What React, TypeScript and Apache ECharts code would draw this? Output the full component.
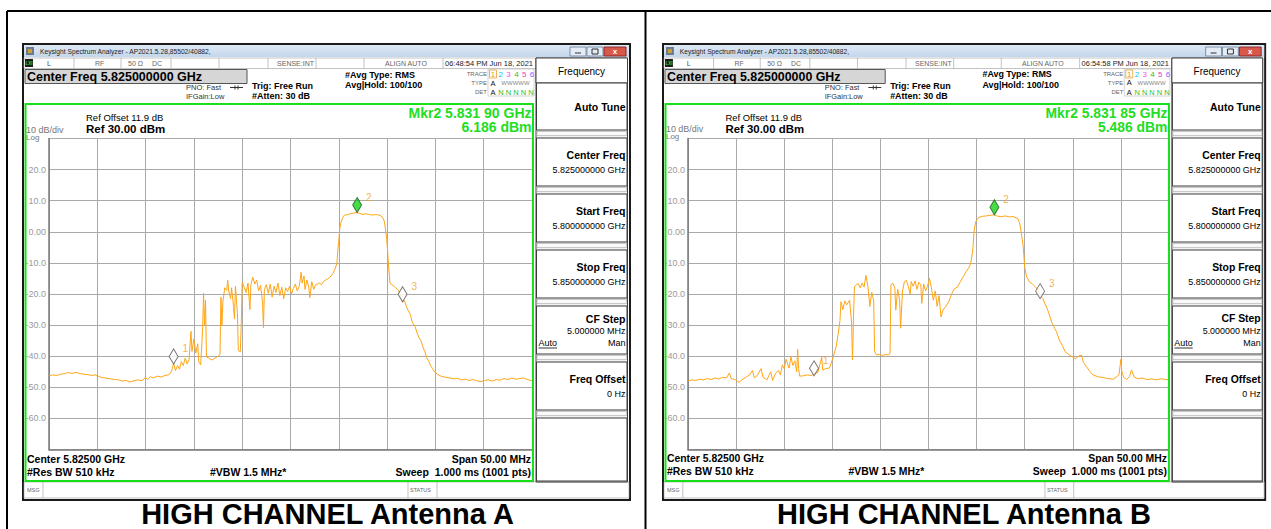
import React, { useEffect, useRef } from "react";
import * as echarts from "echarts";

const FONT = '"Liberation Sans", Arial, sans-serif';

// Frequency offset from start (MHz, 5.800 GHz .. 5.850 GHz) and level (dBm)
const traceA: [number, number][] = [
  [0, -46.3], [0.4, -46.0], [0.8, -46.2], [1.2, -45.8], [1.6, -45.6], [2.0, -45.3], [2.4, -45.5], [2.8, -45.2],
  [3.2, -45.6], [3.6, -45.8], [4.0, -45.9], [4.4, -46.2], [4.8, -46.0], [5.2, -46.6], [5.6, -46.9], [6.0, -47.1],
  [6.4, -47.3], [6.8, -47.5], [7.2, -47.6], [7.6, -48.0], [8.0, -47.8], [8.4, -48.3], [8.8, -47.9], [9.2, -47.6],
  [9.6, -47.9], [10.0, -46.8], [10.2, -47.5], [10.5, -46.6], [10.8, -47.0], [11.2, -46.4], [11.6, -46.7], [12.0, -46.2],
  [12.4, -46.0], [12.7, -44.8], [12.9, -42.3], [13.1, -44.6], [13.3, -43.0], [13.5, -44.2], [13.7, -41.8], [13.9, -43.0],
  [14.1, -40.6], [14.3, -42.5], [14.5, -41.0], [14.7, -32.0], [14.8, -38.5], [15.0, -34.5], [15.2, -39.0], [15.4, -36.0],
  [15.5, -41.7], [15.7, -42.8], [15.9, -31.5], [16.0, -19.8], [16.1, -30.0], [16.2, -22.0], [16.3, -40.2], [16.6, -40.8],
  [16.9, -41.2], [17.2, -40.6], [17.5, -40.0], [17.7, -39.5], [17.8, -21.0], [17.9, -30.0], [18.0, -22.5], [18.2, -18.0],
  [18.4, -18.8], [18.5, -15.6], [18.6, -19.0], [18.8, -21.5], [18.9, -18.0], [19.1, -24.0], [19.2, -28.0], [19.3, -17.5],
  [19.5, -26.0], [19.6, -38.2], [19.8, -38.6], [19.9, -30.0], [20.0, -16.2], [20.2, -17.8], [20.4, -19.5], [20.6, -16.5],
  [20.8, -25.0], [20.9, -17.0], [21.1, -14.6], [21.3, -16.8], [21.5, -15.5], [21.7, -19.0], [21.9, -17.2], [22.1, -22.5],
  [22.2, -30.8], [22.3, -18.5], [22.5, -17.0], [22.7, -19.8], [22.9, -16.8], [23.1, -21.0], [23.3, -17.5], [23.5, -19.5],
  [23.7, -16.5], [23.9, -20.5], [24.1, -17.8], [24.3, -21.5], [24.5, -18.0], [24.7, -19.2], [24.9, -17.5], [25.1, -20.0],
  [25.3, -18.2], [25.5, -16.8], [25.7, -19.0], [25.9, -17.6], [26.1, -13.0], [26.2, -16.5], [26.4, -14.2], [26.5, -18.5],
  [26.7, -15.5], [26.9, -18.0], [27.0, -21.2], [27.2, -16.0], [27.4, -18.5], [27.6, -17.0], [27.8, -16.8], [28.0, -16.5],
  [28.2, -17.0], [28.4, -16.0], [28.6, -15.6], [28.8, -15.2], [29.0, -14.8], [29.2, -14.2], [29.4, -13.4], [29.6, -12.0],
  [29.8, -10.2], [29.9, -6.0], [30.0, -2.7], [30.1, 1.0], [30.2, 2.8], [30.4, 4.6], [30.6, 5.4], [30.9, 5.5],
  [31.2, 5.8], [31.5, 6.0], [31.9, 6.186], [32.2, 5.9], [32.5, 5.6], [32.8, 5.8], [33.1, 5.6], [33.4, 5.4],
  [33.7, 5.5], [34.0, 5.5], [34.3, 5.2], [34.5, 4.8], [34.7, 3.5], [34.8, 1.5], [34.95, -2.0], [35.05, -6.0],
  [35.15, -11.0], [35.3, -16.5], [35.5, -17.0], [35.7, -17.5], [35.9, -18.0], [36.2, -19.0], [36.4, -20.3], [36.6, -22.5],
  [36.8, -22.2], [37.0, -24.0], [37.2, -25.5], [37.4, -26.5], [37.6, -29.0], [37.7, -29.5], [37.9, -30.5], [38.1, -32.5],
  [38.3, -34.0], [38.5, -35.0], [38.7, -37.0], [38.9, -38.5], [39.1, -40.5], [39.3, -41.5], [39.5, -43.0], [39.7, -44.0],
  [39.9, -45.0], [40.2, -45.8], [40.5, -46.3], [40.8, -46.6], [41.1, -46.8], [41.5, -47.0], [41.9, -47.3], [42.3, -47.1],
  [42.7, -47.6], [43.1, -47.4], [43.5, -47.8], [43.9, -47.5], [44.3, -47.9], [44.7, -48.2], [45.1, -47.8], [45.5, -47.6],
  [45.9, -48.0], [46.3, -47.5], [46.7, -47.7], [47.1, -47.2], [47.5, -47.5], [47.9, -47.0], [48.3, -47.4], [48.7, -47.2],
  [49.1, -47.0], [49.5, -47.5], [50.0, -47.9],
];

const traceB: [number, number][] = [
  [0, -47.9], [0.4, -47.6], [0.8, -47.8], [1.2, -47.4], [1.6, -47.6], [2.0, -47.2], [2.4, -47.5], [2.8, -47.0],
  [3.2, -47.3], [3.6, -46.8], [4.0, -47.0], [4.3, -45.4], [4.5, -47.2], [4.9, -47.5], [5.3, -48.4], [5.6, -47.6],
  [6.0, -46.8], [6.4, -46.0], [6.7, -44.6], [6.9, -47.0], [7.2, -46.2], [7.6, -44.0], [7.8, -46.8], [8.2, -47.6],
  [8.6, -45.0], [8.8, -47.8], [9.1, -45.5], [9.4, -44.6], [9.6, -46.0], [9.8, -42.8], [10.0, -44.0], [10.2, -41.0],
  [10.5, -43.8], [10.7, -40.2], [10.9, -43.0], [11.1, -41.5], [11.3, -45.0], [11.4, -37.8], [11.5, -44.0], [11.6, -46.4],
  [12.0, -46.3], [12.4, -46.0], [12.8, -46.2], [13.1, -45.8], [13.5, -45.2], [13.9, -40.3], [14.0, -44.5], [14.3, -44.0],
  [14.7, -43.8], [15.0, -41.2], [15.4, -37.0], [15.6, -33.0], [15.8, -28.5], [15.9, -22.5], [16.1, -25.0], [16.3, -22.2],
  [16.5, -23.5], [16.8, -22.0], [17.0, -29.0], [17.1, -41.2], [17.2, -28.0], [17.3, -17.7], [17.5, -17.0], [17.7, -16.7],
  [17.9, -18.0], [18.1, -16.5], [18.3, -17.8], [18.5, -14.0], [18.7, -17.5], [18.9, -24.0], [19.1, -19.5], [19.3, -22.0],
  [19.4, -38.5], [19.6, -39.6], [19.9, -39.4], [20.2, -39.8], [20.5, -39.4], [20.8, -39.6], [21.0, -39.2], [21.1, -17.0],
  [21.3, -16.5], [21.5, -18.0], [21.6, -25.2], [21.8, -18.5], [22.0, -22.0], [22.1, -31.0], [22.3, -19.0], [22.5, -16.0],
  [22.7, -15.6], [22.9, -17.5], [23.1, -20.0], [23.2, -16.0], [23.4, -17.5], [23.6, -15.8], [23.8, -18.5], [24.0, -16.2],
  [24.2, -17.0], [24.3, -23.0], [24.5, -16.8], [24.7, -19.0], [24.9, -17.5], [25.1, -15.0], [25.3, -18.0], [25.5, -22.0],
  [25.7, -19.0], [25.9, -24.0], [26.1, -20.5], [26.3, -27.4], [26.5, -25.2], [26.8, -24.0], [27.1, -22.5], [27.4, -20.0],
  [27.7, -18.3], [28.0, -17.8], [28.3, -16.1], [28.6, -14.5], [28.9, -12.9], [29.2, -11.5], [29.4, -10.0], [29.6, -5.9],
  [29.75, 0.5], [29.9, 3.2], [30.2, 4.6], [30.6, 5.0], [31.0, 5.1], [31.4, 5.3], [31.8, 5.486], [32.2, 5.0],
  [32.6, 4.9], [33.0, 5.1], [33.4, 4.8], [33.8, 4.9], [34.1, 4.5], [34.3, 4.2], [34.5, 2.5], [34.7, -1.5],
  [34.85, -4.9], [35.0, -11.3], [35.2, -14.5], [35.5, -16.1], [35.8, -16.8], [36.1, -17.7], [36.4, -18.8], [36.6, -20.5],
  [36.9, -21.5], [37.1, -23.1], [37.4, -25.2], [37.6, -27.0], [37.8, -29.0], [38.1, -31.0], [38.3, -32.1], [38.6, -34.8],
  [38.9, -36.5], [39.2, -38.5], [39.6, -39.5], [39.9, -40.1], [40.3, -40.8], [40.6, -40.0], [40.9, -39.6], [41.1, -42.0],
  [41.4, -43.3], [41.8, -45.0], [42.1, -46.0], [42.6, -46.6], [43.2, -46.9], [43.7, -47.2], [44.2, -47.4], [44.6, -46.5],
  [44.8, -46.0], [45.0, -41.0], [45.1, -45.0], [45.3, -46.8], [45.6, -47.5], [45.9, -46.5], [46.1, -44.4], [46.4, -46.8],
  [46.8, -47.3], [47.2, -47.0], [47.7, -47.5], [48.2, -47.3], [48.7, -47.6], [49.2, -47.2], [49.6, -47.5], [50.0, -47.6],
];

// Markers: [freq offset MHz, level dBm, number]
const markersA: [number, number, string][] = [[12.9, -42.5, "1"], [31.9, 6.186, "2"], [36.6, -22.5, "3"]];
const markersB: [number, number, string][] = [[13.1, -46.3, "1"], [31.85, 5.486, "2"], [36.6, -21.5, "3"]];

const timesText = ["06:48:54 PM Jun 18, 2021", "06:54:58 PM Jun 18, 2021"];
const mkrFreqText = ["Mkr2 5.831 90 GHz", "Mkr2 5.831 85 GHz"];
const mkrLevelText = ["6.186 dBm", "5.486 dBm"];
const titles = ["HIGH CHANNEL Antenna A", "HIGH CHANNEL Antenna B"];

const softkeys = [
  { label: "Center Freq", value: "5.825000000 GHz" },
  { label: "Start Freq", value: "5.800000000 GHz" },
  { label: "Stop Freq", value: "5.850000000 GHz" },
];

function txt(text: string, x: number, y: number, size: number, o: any = {}) {
  const align = o.align || "left";
  const va = o.va || "middle";
  return {
    type: "text",
    z: 3,
    style: {
      text,
      x,
      y,
      fill: o.color || "#000",
      font: `${o.bold ? "bold " : ""}${size}px ${FONT}`,
      textAlign: align,
      align,
      textVerticalAlign: va,
      verticalAlign: va,
    },
  };
}
function rect(x: number, y: number, w: number, h: number, fill: any, stroke?: string, lw = 1, z = 1) {
  return {
    type: "rect",
    z,
    shape: { x, y, width: w, height: h },
    style: { fill, stroke: stroke || null, lineWidth: lw },
  };
}
function line(x1: number, y1: number, x2: number, y2: number, stroke: string, lw = 1) {
  return { type: "line", z: 2, shape: { x1, y1, x2, y2 }, style: { stroke, lineWidth: lw } };
}

function panel(i: number) {
  const c: any[] = [];
  // frame
  c.push(rect(23, 44, 607, 456, "#fff", "#1a1a1a", 2, 0));
  // title bar
  c.push(
    rect(24, 45, 605, 12, {
      type: "linear", x: 0, y: 0, x2: 0, y2: 1,
      colorStops: [{ offset: 0, color: "#dfe9f5" }, { offset: 1, color: "#c3d6ec" }],
    })
  );
  c.push(rect(26, 47, 8, 8, "#6b7a8c"));
  c.push(rect(28, 49, 4, 4, "#c9a23a"));
  c.push(txt("Keysight Spectrum Analyzer - AP2021.5.28,85502/40882,", 40, 51.5, 6.7, { color: "#222" }));
  c.push(rect(570, 47, 16, 9, "#e4ecf6", "#7d90a8", 1));
  c.push(line(575, 53, 581, 53, "#333", 1));
  c.push(rect(587, 47, 16, 9, "#e4ecf6", "#7d90a8", 1));
  c.push(rect(592, 49, 6, 5, "none", "#333", 1));
  c.push(rect(604, 47, 22, 9, "#d8584a", "#8a2a2a", 1));
  c.push(txt("x", 615, 51.5, 8, { color: "#fff", bold: true, align: "center" }));
  // status row
  c.push(rect(24, 58, 512, 10.5, "#fff", "#9a9a9a", 0.6));
  [74, 121, 171, 219, 268, 316, 364, 443].forEach((x) => c.push(line(x, 58, x, 68.5, "#9a9a9a", 0.6)));
  c.push(rect(25, 59, 8, 8, "#1b1b1b"));
  c.push(txt("LXI", 29, 63.2, 4.5, { color: "#39d039", bold: true, align: "center" }));
  c.push(txt("L", 47, 63.3, 7.5, { color: "#555" }));
  c.push(txt("RF", 95, 63.3, 7, { color: "#666" }));
  c.push(txt("50 Ω", 128, 63.3, 7, { color: "#666" }));
  c.push(txt("DC", 152, 63.3, 7, { color: "#666" }));
  c.push(txt("SENSE:INT", 314, 63.3, 7, { color: "#666", align: "right" }));
  c.push(txt("ALIGN AUTO", 385, 63.3, 7, { color: "#666" }));
  c.push(txt(timesText[i], 445, 63.3, 7.5, { color: "#222" }));
  // header
  c.push(rect(25, 69.5, 222, 14, "#d6d6d6", "#555", 1));
  c.push(txt("Center Freq 5.825000000 GHz", 27, 76.8, 12.5, { bold: true }));
  c.push(txt("PNO: Fast", 186, 87.5, 7.5, { color: "#333" }));
  c.push(line(230, 87.5, 243, 87.5, "#333", 1));
  c.push(line(235, 85.5, 235, 89.5, "#333", 1));
  c.push(line(238, 85.5, 238, 89.5, "#333", 1));
  c.push(txt("IFGain:Low", 186, 96.5, 7.5, { color: "#333" }));
  c.push(txt("Trig: Free Run", 252, 85.5, 9, { bold: true }));
  c.push(txt("#Atten: 30 dB", 252, 96, 9, { bold: true }));
  c.push(txt("#Avg Type: RMS", 345, 74.5, 9, { bold: true }));
  c.push(txt("Avg|Hold: 100/100", 345, 84.5, 9, { bold: true }));
  c.push(txt("TRACE", 487, 73.5, 6, { color: "#666", align: "right" }));
  c.push(txt("TYPE", 487, 83, 6, { color: "#666", align: "right" }));
  c.push(txt("DET", 487, 92, 6, { color: "#666", align: "right" }));
  c.push(rect(488, 69, 46, 27, "none", "#c8c8c8", 0.8));
  c.push(rect(489.5, 70, 7, 8, "none", "#e8a030", 0.8));
  const tc = ["#e89a10", "#10c0f0", "#f050f0", "#30c030", "#f03cb4", "#8a5cff"];
  tc.forEach((col, k) => c.push(txt(String(k + 1), 493 + k * 7.8, 74, 8, { color: col, align: "center" })));
  c.push(txt("A", 493, 83, 7.5, { color: "#111", align: "center" }));
  c.push(txt("WWWWW", 515.5, 83, 6, { color: "#888", align: "center" }));
  c.push(txt("A", 493, 92, 7.5, { color: "#111", align: "center" }));
  c.push(txt("N N N N N", 516, 92, 7.5, { color: "#2ac02a", align: "center" }));
  // green measurement frame (drawn above the graticule edge)
  c.push(rect(25.5, 104, 507.5, 377, "none", "#18e018", 2, 9));
  c.push(txt("Ref Offset 11.9 dB", 86, 117.5, 9.5));
  c.push(txt("Ref 30.00 dBm", 86, 128.5, 11.5, { bold: true }));
  c.push(txt("10 dB/div", 26, 129.5, 9, { color: "#777" }));
  c.push(txt("Log", 26, 137, 8, { color: "#777" }));
  c.push(txt(mkrFreqText[i], 531.5, 112.5, 14, { bold: true, color: "#22dd22", align: "right" }));
  c.push(txt(mkrLevelText[i], 531.5, 126.5, 14, { bold: true, color: "#22dd22", align: "right" }));
  c.push(txt("Center 5.82500 GHz", 27, 458.5, 10.5, { bold: true }));
  c.push(txt("#Res BW 510 kHz", 27, 471.5, 10.5, { bold: true }));
  c.push(txt("#VBW 1.5 MHz*", 210, 471.5, 10.5, { bold: true }));
  c.push(txt("Span 50.00 MHz", 531, 458.5, 10.5, { bold: true, align: "right" }));
  c.push(txt("Sweep  1.000 ms (1001 pts)", 531, 471.5, 10.5, { bold: true, align: "right" }));
  // message bar
  c.push(rect(24, 482, 605, 16, "#fff", "#9a9a9a", 0.6));
  [43, 408, 437].forEach((x) => c.push(line(x, 482, x, 498, "#9a9a9a", 0.6)));
  c.push(txt("MSG", 27, 490, 5.5, { color: "#666" }));
  c.push(txt("STATUS", 410, 490, 5.5, { color: "#666" }));
  // softkey panel
  c.push(rect(536, 58, 91.5, 424, "#f2f2f2", "#444", 1));
  c.push(rect(536, 58, 91.5, 25, "#fff", "#444", 1));
  c.push(txt("Frequency", 581.5, 71, 10, { align: "center" }));
  const keyTops = [83, 138, 194, 250, 306, 362, 418];
  keyTops.forEach((y, k) => {
    const h = k === 6 ? 63 : k === 0 ? 47 : 48;
    c.push(rect(536.5, y, 90.5, h, "#fff", "#3a3a3a", 1));
    if (k < 6) c.push(rect(537, y + h + 1.5, 89.5, 4, "#fafafa", "#aaa", 0.6));
  });
  c.push(txt("Auto Tune", 625.5, 107, 10.5, { bold: true, align: "right" }));
  softkeys.forEach((s, k) => {
    const y = keyTops[k + 1];
    c.push(txt(s.label, 625.5, y + 17, 10.5, { bold: true, align: "right" }));
    c.push(txt(s.value, 625.5, y + 32, 9, { align: "right" }));
  });
  c.push(txt("CF Step", 625.5, 318.5, 10.5, { bold: true, align: "right" }));
  c.push(txt("5.000000 MHz", 625.5, 331, 9, { align: "right" }));
  c.push(txt("Auto", 538.5, 343, 9));
  c.push(line(538.5, 348, 557, 348, "#000", 0.8));
  c.push(txt("Man", 625.5, 343, 9, { align: "right" }));
  c.push(txt("Freq Offset", 625.5, 379, 10.5, { bold: true, align: "right" }));
  c.push(txt("0 Hz", 625.5, 394, 9, { align: "right" }));
  return c;
}

function axisPair(grid: number) {
  const x = {
    gridIndex: grid,
    type: "value",
    min: 0,
    max: 50,
    interval: 5,
    z: 4,
    axisLabel: { show: false },
    axisTick: { show: false },
    axisLine: { show: true, onZero: false, lineStyle: { color: "#7a7a7a", width: 1.5 } },
    splitLine: { show: true, lineStyle: { color: "#a9a9a9", width: 1 } },
  };
  const y = {
    gridIndex: grid,
    type: "value",
    min: -70,
    max: 30,
    interval: 10,
    z: 4,
    axisTick: { show: false },
    axisLine: { show: true, lineStyle: { color: "#7a7a7a", width: 1.5 } },
    splitLine: { show: true, lineStyle: { color: "#a9a9a9", width: 1 } },
    axisLabel: {
      margin: 3,
      color: "#9a9a9a",
      fontSize: 9,
      fontFamily: FONT,
      formatter: (v: number) => (v === 30 || v === -70 ? "" : v === 0 ? "0.00" : v.toFixed(1)),
    },
  };
  return { x, y };
}

function markerSeries(m: [number, number, string][], idx: number) {
  return {
    type: "scatter",
    xAxisIndex: idx,
    yAxisIndex: idx,
    z: 8,
    symbol: "diamond",
    symbolSize: [9, 15],
    symbolOffset: [0, -7.5],
    data: m.map((d) => ({
      value: [d[0], d[1]],
      itemStyle:
        d[2] === "2"
          ? { color: "#19d419", borderColor: "#1e5a1e", borderWidth: 1 }
          : { color: "#ffffff", borderColor: "#555", borderWidth: 1 },
      label: {
        show: true,
        formatter: d[2],
        position: "right",
        offset: [-1, -8],
        color: "#f0a020",
        fontSize: 10,
        fontFamily: FONT,
      },
    })),
  };
}

export default function App() {
  const ref = useRef<HTMLDivElement>(null);
  useEffect(() => {
    if (!ref.current) return;
    const chart = echarts.init(ref.current, undefined, { renderer: "svg" });
    const a0 = axisPair(0);
    const a1 = axisPair(1);
    const sx = 602 / 607;
    const gx = 663 - 23 * sx;
    chart.setOption({
      animation: false,
      backgroundColor: "#fff",
      grid: [
        { left: 49, top: 138.5, width: 483, height: 311 },
        { left: 688, top: 138.5, width: 481, height: 311 },
      ],
      xAxis: [a0.x, a1.x],
      yAxis: [a0.y, a1.y],
      graphic: [
        line(7, 11, 1271, 11, "#000", 2),
        line(7, 11, 7, 529, "#000", 2),
        line(645.5, 11, 645.5, 529, "#000", 2),
        { type: "group", x: 0, y: 0, children: panel(0) },
        { type: "group", x: gx, y: 0, scaleX: sx, children: panel(1) },
        txt(titles[0], 327.5, 528.5, 29, { bold: true, align: "center", va: "bottom" }),
        txt(titles[1], 964, 528.5, 29, { bold: true, align: "center", va: "bottom" }),
      ],
      series: [
        {
          type: "line",
          xAxisIndex: 0,
          yAxisIndex: 0,
          showSymbol: false,
          symbol: "none",
          z: 6,
          lineStyle: { color: "#ffa514", width: 1 },
          data: traceA,
        },
        {
          type: "line",
          xAxisIndex: 1,
          yAxisIndex: 1,
          showSymbol: false,
          symbol: "none",
          z: 6,
          lineStyle: { color: "#ffa514", width: 1 },
          data: traceB,
        },
        markerSeries(markersA, 0),
        markerSeries(markersB, 1),
      ],
    });
    return () => chart.dispose();
  }, []);
  return (
    <div
      ref={ref}
      style={{ position: "absolute", left: 0, top: 0, width: 1271, height: 529 }}
    />
  );
}
